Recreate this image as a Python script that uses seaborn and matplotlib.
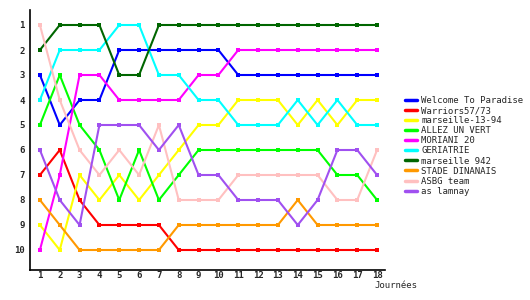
import matplotlib
matplotlib.use("Agg")
import matplotlib.pyplot as plt
import seaborn as sns
import pandas as pd
from matplotlib.lines import Line2D

days = list(range(1, 19))
teams = ["Welcome To Paradise", "Warriors57/73", "marseille-13-94", "ALLEZ UN VERT",
         "MORIANI 20", "GERIATRIE", "marseille 942", "STADE DINANAIS", "ASBG team", "as lamnay"]
colors = ["#0000FF", "#FF0000", "#FFFF00", "#00FF00", "#FF00FF", "#00FFFF",
          "#006600", "#FF9900", "#FFC0C0", "#A050F0"]

welcome = [3, 5, 4, 4, 2, 2, 2, 2, 2, 2, 3, 3, 3, 3, 3, 3, 3, 3]
warriors = [7, 6, 8, 9, 9, 9, 9, 10, 10, 10, 10, 10, 10, 10, 10, 10, 10, 10]
marseille1394 = [9, 10, 7, 8, 7, 8, 7, 6, 5, 5, 4, 4, 4, 5, 4, 5, 4, 4]
allez = [5, 3, 5, 6, 8, 6, 8, 7, 6, 6, 6, 6, 6, 6, 6, 7, 7, 8]
moriani = [10, 7, 3, 3, 4, 4, 4, 4, 3, 3, 2, 2, 2, 2, 2, 2, 2, 2]
geriatrie = [4, 2, 2, 2, 1, 1, 3, 3, 4, 4, 5, 5, 5, 4, 5, 4, 5, 5]
marseille942 = [2, 1, 1, 1, 3, 3, 1, 1, 1, 1, 1, 1, 1, 1, 1, 1, 1, 1]
stade = [8, 9, 10, 10, 10, 10, 10, 9, 9, 9, 9, 9, 9, 8, 9, 9, 9, 9]
asbg = [1, 4, 6, 7, 6, 7, 5, 8, 8, 8, 7, 7, 7, 7, 7, 8, 8, 6]
lamnay = [6, 8, 9, 5, 5, 5, 6, 5, 7, 7, 8, 8, 8, 9, 8, 6, 6, 7]

series = [welcome, warriors, marseille1394, allez, moriani, geriatrie,
          marseille942, stade, asbg, lamnay]

rows = []
for t, vals in zip(teams, series):
    for d, v in zip(days, vals):
        rows.append({"day": d, "rank": v, "team": t})
df = pd.DataFrame(rows)

sns.set_style("white")
plt.rcParams['font.family'] = ['DejaVu Sans Mono', 'DejaVu Sans']

fig = plt.figure(figsize=(5.3, 3.0), dpi=100)
ax = fig.add_axes([30/530, 30/300, 355/530, 260/300])

sns.lineplot(data=df, x="day", y="rank", hue="team", hue_order=teams,
             palette=dict(zip(teams, colors)), marker="s", markersize=3,
             markeredgewidth=0, linewidth=1.5, ax=ax, legend=False)

ax.set_xlim(0.5, 18.4)
ax.set_ylim(10.8, 0.4)
ax.set_xticks(days)
ax.set_xticklabels([str(d) for d in days], fontsize=6.5, fontweight='bold')
ax.set_yticks(range(1, 11))
ax.set_yticklabels([str(i) for i in range(1, 11)], fontsize=6.5, fontweight='bold')
ax.tick_params(axis='x', length=0, pad=1)
ax.tick_params(axis='y', length=0, pad=4)
ax.set_xlabel("")
ax.set_ylabel("")
for s in ["top", "right"]:
    ax.spines[s].set_visible(False)
for s in ["left", "bottom"]:
    ax.spines[s].set_color("black")
    ax.spines[s].set_linewidth(1.2)

fig.text(374/530, 1 - 285/300, "Journées", fontsize=6.5, va="center", ha="left")

handles = [Line2D([0], [0], color=c, lw=2.5) for c in colors]
fig.legend(handles, teams, loc="upper left", bbox_to_anchor=(405/530, 1 - 96/300),
           frameon=False, fontsize=6.5, handlelength=1.3, handletextpad=0.5,
           labelspacing=0.12, borderpad=0, borderaxespad=0)

fig.savefig("out.png", dpi=100)
